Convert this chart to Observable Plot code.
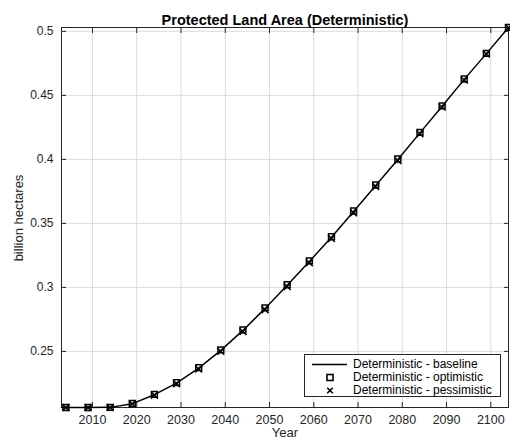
<!DOCTYPE html>
<html><head><meta charset="utf-8">
<script src="https://cdn.jsdelivr.net/npm/d3@7"></script>
<script src="https://cdn.jsdelivr.net/npm/@observablehq/plot@0.6"></script>
<style>
body{margin:0;background:#fff;}
#wrap{position:relative;width:510px;height:442px;font-family:"Liberation Sans",Arial,sans-serif;color:#262626;}
#legend{position:absolute;left:304px;top:354px;width:197px;height:43px;border:1px solid #262626;background:#fff;box-sizing:border-box;font-size:12px;}
#legend .row{position:absolute;left:0;height:13px;line-height:13px;white-space:nowrap;}
#legend svg{position:absolute;left:0;top:0;}
#legend span{position:absolute;left:48px;top:0;color:#000;}
#ylabel{position:absolute;left:17.5px;top:218px;transform:translate(-50%,-50%) rotate(-90deg);font-size:13px;white-space:nowrap;color:#262626;line-height:1;}
</style></head><body><div id="wrap"></div>
<script>
const title = "Protected Land Area (Deterministic)";
const xLabel = "Year";
const yLabel = "billion hectares";
const seriesNames = ["Deterministic - baseline", "Deterministic - optimistic", "Deterministic - pessimistic"];
const startYear = 2003;
const years = [2004, 2009, 2014, 2019, 2024, 2029, 2034, 2039, 2044, 2049, 2054, 2059, 2064, 2069, 2074, 2079, 2084, 2089, 2094, 2099, 2104];
const baseline =    [0.2062, 0.2062, 0.2063, 0.2092, 0.2162, 0.2253, 0.2370, 0.2508, 0.2664, 0.2836, 0.3017, 0.3203, 0.3392, 0.3593, 0.3796, 0.3999, 0.4207, 0.4415, 0.4625, 0.4826, 0.5030];
const optimistic =  [0.2062, 0.2062, 0.2063, 0.2093, 0.2164, 0.2256, 0.2374, 0.2512, 0.2668, 0.2840, 0.3021, 0.3207, 0.3396, 0.3597, 0.3800, 0.4003, 0.4211, 0.4418, 0.4628, 0.4828, 0.5031];
const pessimistic = [0.2062, 0.2062, 0.2062, 0.2090, 0.2158, 0.2248, 0.2362, 0.2500, 0.2655, 0.2826, 0.3007, 0.3193, 0.3382, 0.3583, 0.3787, 0.3990, 0.4199, 0.4408, 0.4619, 0.4822, 0.5028];
const xTicks = [2010, 2020, 2030, 2040, 2050, 2060, 2070, 2080, 2090, 2100];
const yTicks = [0.25, 0.3, 0.35, 0.4, 0.45, 0.5];
const yTickLabels = ["0.25", "0.3", "0.35", "0.4", "0.45", "0.5"];

const lineData = [{year: startYear, value: baseline[0]}].concat(years.map((y, i) => ({year: y, value: baseline[i]})));
const optData = years.map((y, i) => ({year: y, value: optimistic[i]}));
const pesData = years.map((y, i) => ({year: y, value: pessimistic[i]}));
const yExtent = d3.extent(baseline);

const axisColor = "#262626";
const chart = Plot.plot({
  width: 510, height: 442,
  marginLeft: 61, marginRight: 2, marginTop: 27, marginBottom: 35,
  style: {fontFamily: "'Liberation Sans', Arial, sans-serif", fontSize: "12px", color: axisColor, background: "#fff", overflow: "visible"},
  x: {domain: [startYear, years[years.length - 1]], label: null},
  y: {domain: yExtent, label: null},
  marks: [
    Plot.gridX(xTicks, {stroke: "#dcdcdc", strokeOpacity: 1}),
    Plot.gridY(yTicks, {stroke: "#dcdcdc", strokeOpacity: 1}),
    // inward tick marks on all four sides
    Plot.axisX({anchor: "bottom", ticks: xTicks, tickSize: 5, dy: -5, fill: "none", label: null}),
    Plot.axisX({anchor: "top", ticks: xTicks, tickSize: 5, dy: 5, fill: "none", label: null}),
    Plot.axisY({anchor: "left", ticks: yTicks, tickSize: 5, dx: 5, fill: "none", label: null}),
    Plot.axisY({anchor: "right", ticks: yTicks, tickSize: 5, dx: -5, fill: "none", label: null}),
    // tick labels
    Plot.axisX({anchor: "bottom", ticks: xTicks, tickSize: 0, tickPadding: 8, tickFormat: d => String(d), fontSize: 12.5, label: null}),
    Plot.axisY({anchor: "left", ticks: yTicks, tickSize: 0, tickPadding: 8, tickFormat: d => yTickLabels[yTicks.indexOf(d)], fontSize: 12, label: null}),
    Plot.frame({stroke: axisColor}),
    Plot.line(lineData, {x: "year", y: "value", stroke: "#000", strokeWidth: 1.5}),
    Plot.dot(optData, {x: "year", y: "value", symbol: "square", r: 3.3, stroke: "#000", strokeWidth: 1.5, fill: "none"}),
    Plot.dot(pesData, {x: "year", y: "value", symbol: "times", r: 3.2, stroke: "#000", strokeWidth: 1.5}),
    Plot.text([title], {frameAnchor: "top", dy: -12.5, fontWeight: "bold", fontSize: 14.5, fill: "#000"}),
    Plot.text([xLabel], {frameAnchor: "bottom", dy: 29, fontSize: 13, fill: axisColor})
  ]
});
const wrap = document.getElementById("wrap");
wrap.appendChild(chart);

const yl = document.createElement("div");
yl.id = "ylabel";
yl.textContent = yLabel;
wrap.appendChild(yl);

const legend = document.createElement("div");
legend.id = "legend";
const rowsTop = [3, 16, 29];
seriesNames.forEach((name, i) => {
  const row = document.createElement("div");
  row.className = "row";
  row.style.top = rowsTop[i] + "px";
  row.style.width = "195px";
  let sw = "";
  if (i === 0) sw = '<line x1="7" x2="42" y1="6.5" y2="6.5" stroke="#000" stroke-width="1.5"/>';
  if (i === 1) sw = '<rect x="22" y="3.5" width="6" height="6" fill="none" stroke="#000" stroke-width="1.6"/>';
  if (i === 2) sw = '<path d="M22.2,3.7L27.8,9.3M27.8,3.7L22.2,9.3" stroke="#000" stroke-width="1.6"/>';
  row.innerHTML = '<svg width="48" height="13">' + sw + '</svg><span>' + name + '</span>';
  legend.appendChild(row);
});
wrap.appendChild(legend);
</script>
</body></html>
